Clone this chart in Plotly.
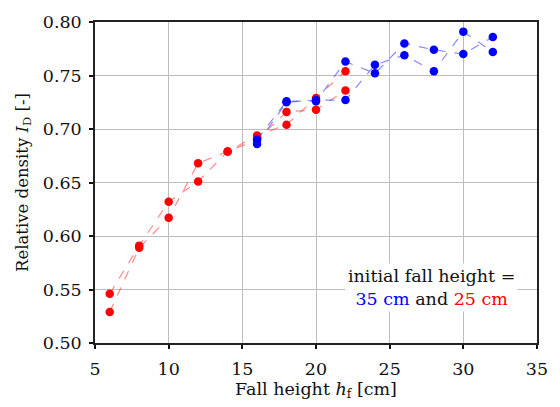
import plotly.graph_objects as go

# Data
x_red = [6, 8, 10, 12, 14, 16, 18, 20, 22]
red_a = [0.546, 0.591, 0.632, 0.651, 0.679, 0.694, 0.704, 0.729, 0.754]
red_b = [0.529, 0.589, 0.617, 0.668, 0.679, 0.690, 0.716, 0.718, 0.736]

x_blue = [16, 18, 20, 22, 24, 26, 28, 30, 32]
blue_a = [0.690, 0.726, 0.726, 0.763, 0.752, 0.780, 0.774, 0.770, 0.786]
blue_b = [0.686, 0.725, 0.727, 0.727, 0.760, 0.769, 0.754, 0.791, 0.772]

x_ticks = [5, 10, 15, 20, 25, 30, 35]
y_ticks = [0.50, 0.55, 0.60, 0.65, 0.70, 0.75, 0.80]

FONT = "DejaVu Serif, Liberation Serif, serif"
FS = 17.5

fig = go.Figure()

def add_series(x, y, line_color):
    fig.add_trace(go.Scatter(
        x=x, y=y, mode="lines",
        line=dict(color=line_color, width=1.2, dash="dash"),
        hoverinfo="skip", showlegend=False))

def add_markers(x, y, marker_color):
    fig.add_trace(go.Scatter(
        x=x, y=y, mode="markers",
        marker=dict(color=marker_color, size=8.5),
        showlegend=False))

add_series(x_red, red_a, "rgba(255,60,60,0.6)")
add_series(x_red, red_b, "rgba(255,60,60,0.6)")
add_markers(x_red, red_a, "#ff0000")
add_markers(x_red, red_b, "#ff0000")
add_series(x_blue, blue_a, "rgba(60,60,255,0.6)")
add_series(x_blue, blue_b, "rgba(60,60,255,0.6)")
add_markers(x_blue, blue_a, "#0000ff")
add_markers(x_blue, blue_b, "#0000ff")

fig.add_annotation(
    x=27.85, y=0.552, xref="x", yref="y",
    text="initial fall height =<br><span style='color:#0000ff'>35 cm</span> and "
         "<span style='color:#ff0000'>25 cm</span>",
    showarrow=False, align="center",
    font=dict(family=FONT, size=FS, color="#111111"),
    bgcolor="white", borderpad=2)

axis_common = dict(
    showgrid=True, gridcolor="#bdbdbd", gridwidth=1,
    zeroline=False, showline=True, linecolor="#222222", linewidth=1.5,
    mirror=True, ticks="outside", ticklen=4, tickwidth=1.5, tickcolor="#111111",
    tickfont=dict(family=FONT, size=FS, color="#111111"),
)

fig.update_xaxes(
    range=[5, 35], tickvals=x_ticks, ticktext=[str(v) for v in x_ticks],
    ticklabelstandoff=5,
    title=dict(text="Fall height <i>h</i><sub>f</sub> [cm]",
               font=dict(family=FONT, size=FS, color="#111111"), standoff=2),
    **axis_common)
fig.update_yaxes(
    range=[0.50, 0.80], tickvals=y_ticks, ticktext=[f"{v:.2f}" for v in y_ticks],
    ticklabelstandoff=4,
    title=dict(text="Relative density <i>I</i><sub>D</sub> [-]",
               font=dict(family=FONT, size=16.5, color="#111111"), standoff=10),
    **axis_common)

fig.update_layout(
    width=560, height=407,
    margin=dict(l=95, r=12, t=16, b=64),
    plot_bgcolor="white", paper_bgcolor="white",
    font=dict(family=FONT),
)

fig.write_html("out.html")
